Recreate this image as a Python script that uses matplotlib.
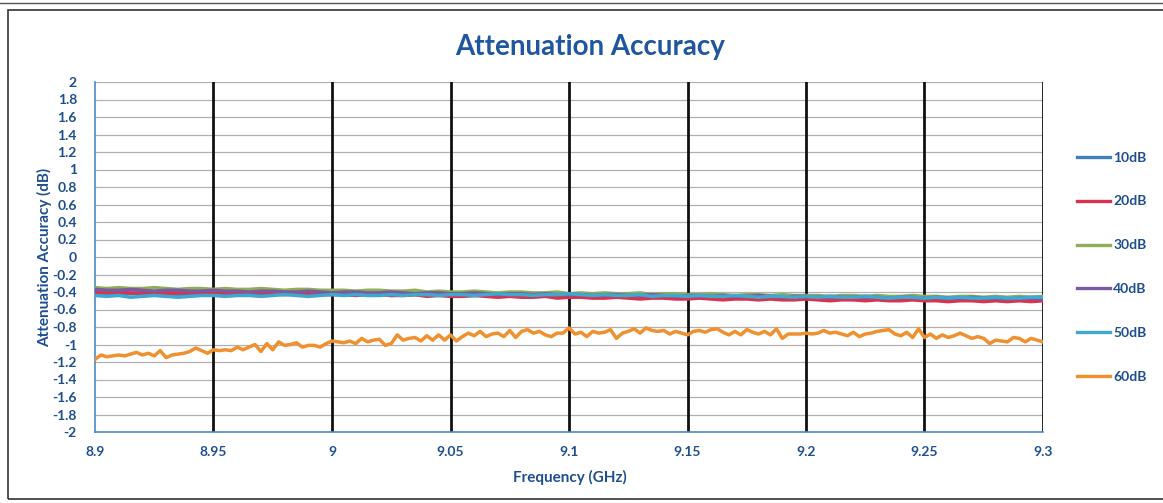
import numpy as np
import matplotlib
matplotlib.use("Agg")
import matplotlib.pyplot as plt
from matplotlib.patches import Rectangle
from matplotlib.lines import Line2D

plt.rcParams['font.family'] = ['Lato', 'DejaVu Sans']

# ---------------- data ----------------
freq_start, freq_stop = 8.9, 9.3
series_names = ["10dB", "20dB", "30dB", "40dB", "50dB", "60dB"]
series_colors = ["#3F7FC0", "#D8344F", "#8FAE55", "#7A5AA0", "#3FA8D0", "#F0902E"]

att_10dB = [-0.41,-0.42,-0.41,-0.42,-0.42,-0.41,-0.42,-0.43,-0.42,-0.42,-0.41,
            -0.42,-0.43,-0.42,-0.42,-0.43,-0.42,-0.42,-0.43,-0.43,-0.42,
            -0.43,-0.43,-0.42,-0.43,-0.44,-0.43,-0.43,-0.44,-0.43,-0.43,
            -0.44,-0.44,-0.43,-0.44,-0.44,-0.45,-0.44,-0.44,-0.45,-0.44,
            -0.45,-0.45,-0.44,-0.45,-0.46,-0.45,-0.45,-0.46,-0.45,-0.46,
            -0.46,-0.46,-0.45,-0.46,-0.47,-0.46,-0.46,-0.47,-0.46,-0.47,
            -0.47,-0.46,-0.47,-0.47,-0.48,-0.47,-0.47,-0.48,-0.47,-0.48,
            -0.48,-0.47,-0.48,-0.48,-0.49,-0.48,-0.48,-0.49,-0.48,-0.48]
att_20dB = [-0.40,-0.41,-0.40,-0.41,-0.41,-0.40,-0.42,-0.41,-0.41,-0.42,-0.41,
            -0.41,-0.42,-0.42,-0.41,-0.42,-0.43,-0.42,-0.42,-0.43,-0.43,
            -0.43,-0.44,-0.43,-0.43,-0.44,-0.44,-0.43,-0.45,-0.44,-0.45,
            -0.45,-0.44,-0.45,-0.46,-0.45,-0.46,-0.46,-0.45,-0.47,-0.46,
            -0.46,-0.47,-0.47,-0.46,-0.47,-0.48,-0.47,-0.47,-0.48,-0.48,
            -0.47,-0.48,-0.49,-0.48,-0.48,-0.49,-0.48,-0.49,-0.49,-0.48,
            -0.49,-0.50,-0.49,-0.49,-0.50,-0.49,-0.50,-0.50,-0.49,-0.50,
            -0.50,-0.51,-0.50,-0.50,-0.51,-0.50,-0.51,-0.50,-0.51,-0.50]
att_30dB = [-0.35,-0.36,-0.35,-0.36,-0.36,-0.35,-0.36,-0.37,-0.36,-0.36,-0.37,
            -0.36,-0.37,-0.37,-0.36,-0.37,-0.38,-0.37,-0.37,-0.38,-0.38,
            -0.38,-0.39,-0.38,-0.38,-0.39,-0.39,-0.38,-0.40,-0.39,-0.40,
            -0.40,-0.39,-0.40,-0.41,-0.40,-0.40,-0.41,-0.41,-0.40,-0.42,
            -0.41,-0.42,-0.41,-0.42,-0.42,-0.41,-0.43,-0.42,-0.42,-0.43,
            -0.43,-0.42,-0.43,-0.44,-0.43,-0.43,-0.44,-0.43,-0.44,-0.44,
            -0.44,-0.45,-0.44,-0.44,-0.45,-0.44,-0.45,-0.45,-0.44,-0.45,
            -0.45,-0.46,-0.45,-0.45,-0.46,-0.45,-0.46,-0.45,-0.46,-0.45]
att_40dB = [-0.37,-0.38,-0.38,-0.37,-0.38,-0.39,-0.38,-0.38,-0.39,-0.39,-0.38,
            -0.39,-0.39,-0.40,-0.39,-0.39,-0.40,-0.40,-0.39,-0.40,-0.41,
            -0.40,-0.40,-0.41,-0.41,-0.40,-0.41,-0.42,-0.41,-0.41,-0.42,
            -0.42,-0.41,-0.42,-0.43,-0.42,-0.42,-0.43,-0.42,-0.43,-0.43,
            -0.43,-0.44,-0.43,-0.43,-0.44,-0.44,-0.43,-0.44,-0.45,-0.44,
            -0.44,-0.45,-0.44,-0.45,-0.45,-0.44,-0.45,-0.46,-0.45,-0.45,
            -0.46,-0.45,-0.46,-0.46,-0.45,-0.46,-0.47,-0.46,-0.46,-0.47,
            -0.46,-0.47,-0.47,-0.46,-0.47,-0.47,-0.48,-0.47,-0.47,-0.48]
att_50dB = [-0.44,-0.45,-0.44,-0.46,-0.45,-0.44,-0.45,-0.46,-0.45,-0.44,-0.44,
            -0.45,-0.44,-0.44,-0.45,-0.44,-0.43,-0.44,-0.45,-0.44,-0.43,
            -0.44,-0.43,-0.44,-0.44,-0.43,-0.44,-0.43,-0.43,-0.44,-0.43,
            -0.43,-0.44,-0.43,-0.42,-0.43,-0.43,-0.44,-0.43,-0.43,-0.42,
            -0.43,-0.44,-0.43,-0.44,-0.44,-0.43,-0.45,-0.44,-0.44,-0.45,
            -0.44,-0.45,-0.45,-0.44,-0.45,-0.46,-0.45,-0.45,-0.46,-0.45,
            -0.46,-0.45,-0.46,-0.46,-0.45,-0.46,-0.47,-0.46,-0.46,-0.47,
            -0.46,-0.47,-0.46,-0.47,-0.47,-0.46,-0.47,-0.47,-0.46,-0.46]
att_60dB = [-1.17,-1.12,-1.14,-1.13,-1.12,-1.13,-1.11,-1.09,-1.12,-1.10,
            -1.13,-1.07,-1.15,-1.12,-1.11,-1.10,-1.08,-1.04,-1.07,-1.10,
            -1.06,-1.07,-1.06,-1.07,-1.03,-1.06,-1.03,-1.00,-1.08,-0.99,
            -1.06,-0.97,-1.01,-1.00,-0.98,-1.03,-1.01,-1.01,-1.03,-0.99,
            -0.96,-0.97,-0.98,-0.96,-0.99,-0.93,-0.97,-0.95,-0.94,-1.01,
            -0.99,-0.89,-0.95,-0.93,-0.92,-0.96,-0.90,-0.95,-0.89,-0.95,
            -0.89,-0.96,-0.91,-0.87,-0.90,-0.85,-0.91,-0.88,-0.87,-0.91,
            -0.84,-0.92,-0.85,-0.83,-0.87,-0.85,-0.89,-0.91,-0.87,-0.87,
            -0.81,-0.88,-0.86,-0.91,-0.85,-0.87,-0.86,-0.83,-0.93,-0.87,
            -0.85,-0.82,-0.87,-0.81,-0.84,-0.85,-0.84,-0.88,-0.85,-0.87,
            -0.89,-0.85,-0.84,-0.86,-0.83,-0.82,-0.86,-0.89,-0.85,-0.89,
            -0.83,-0.86,-0.88,-0.85,-0.89,-0.82,-0.93,-0.88,-0.88,-0.88,
            -0.87,-0.88,-0.87,-0.84,-0.87,-0.86,-0.88,-0.90,-0.86,-0.91,
            -0.88,-0.87,-0.85,-0.84,-0.83,-0.88,-0.90,-0.86,-0.92,-0.82,
            -0.92,-0.88,-0.93,-0.89,-0.92,-0.90,-0.87,-0.90,-0.93,-0.91,
            -0.93,-0.99,-0.95,-0.96,-0.97,-0.92,-0.93,-0.97,-0.93,-0.95,
            -0.97]
series_values = [att_10dB, att_20dB, att_30dB, att_40dB, att_50dB, att_60dB]

x_ticks = [8.9, 8.95, 9.0, 9.05, 9.1, 9.15, 9.2, 9.25, 9.3]
x_tick_labels = ["8.9", "8.95", "9", "9.05", "9.1", "9.15", "9.2", "9.25", "9.3"]
y_ticks = [-2, -1.8, -1.6, -1.4, -1.2, -1, -0.8, -0.6, -0.4, -0.2, 0,
           0.2, 0.4, 0.6, 0.8, 1, 1.2, 1.4, 1.6, 1.8, 2]
y_tick_labels = ["-2", "-1.8", "-1.6", "-1.4", "-1.2", "-1", "-0.8", "-0.6", "-0.4",
                 "-0.2", "0", "0.2", "0.4", "0.6", "0.8", "1", "1.2", "1.4", "1.6",
                 "1.8", "2"]

title = "Attenuation Accuracy"
x_label = "Frequency (GHz)"
y_label = "Attenuation Accuracy (dB)"

# ---------------- figure ----------------
W, H = 1163, 503
fig = plt.figure(figsize=(W / 100, H / 100), dpi=100)
fig.patch.set_facecolor("white")

text_blue = "#1F4E8F"
title_blue = "#1F56A0"

ax = fig.add_axes([95 / W, 1 - 432 / H, (1043 - 95) / W, (432 - 82) / H])
ax.set_xlim(freq_start, freq_stop)
ax.set_ylim(-2, 2)

# gridlines
for yv in y_ticks:
    ax.axhline(yv, color="#B0B0B0", lw=0.9, zorder=1)
for xv in x_ticks[1:]:
    ax.axvline(xv, color="#111111", lw=2.0, zorder=1)

for name, vals, col in zip(series_names, series_values, series_colors):
    f = np.linspace(freq_start, freq_stop, len(vals))
    ax.plot(f, vals, color=col, lw=2.5, zorder=3, solid_joinstyle="round")

for s in ["top", "right"]:
    ax.spines[s].set_visible(False)
for s in ["left", "bottom"]:
    ax.spines[s].set_color("#4A8BC4")
    ax.spines[s].set_linewidth(1.2)

ax.set_xticks(x_ticks)
ax.set_xticklabels(x_tick_labels)
ax.set_yticks(y_ticks)
ax.set_yticklabels(y_tick_labels)
ax.tick_params(length=0, labelsize=10, labelcolor=text_blue)
for lab in ax.get_xticklabels() + ax.get_yticklabels():
    lab.set_fontweight("bold")
ax.tick_params(axis="x", pad=10)
ax.tick_params(axis="y", pad=13)

fig.text(590 / W, 1 - 47 / H, title, ha="center", va="center",
         fontsize=20, fontweight="bold", color=title_blue)
fig.text(570 / W, 1 - 477 / H, x_label, ha="center", va="center",
         fontsize=11, fontweight="bold", color=text_blue)
fig.text(45 / W, 1 - 257 / H, y_label, ha="center", va="center",
         rotation=90, fontsize=11, fontweight="bold", color=text_blue)

# legend
handles = [Line2D([0], [0], color=c, lw=2.4) for c in series_colors]
leg = fig.legend(handles, series_names, loc="upper left",
                 bbox_to_anchor=(1064 / W, 1 - 139 / H), frameon=False,
                 handlelength=2.4, handletextpad=0.25, labelspacing=2.3,
                 prop={"size": 10, "weight": "bold"})
for t in leg.get_texts():
    t.set_color(text_blue)

# outer frame
fig.add_artist(Line2D([0, 1], [1 - 3 / H, 1 - 3 / H], transform=fig.transFigure,
                      color="#555555", lw=1.0))
fig.add_artist(Rectangle((8 / W, 4 / H), 1.2, 1 - 14 / H, transform=fig.transFigure,
                         fill=False, edgecolor="#333333", lw=1.2))

fig.savefig("out.png", dpi=100, facecolor="white")
